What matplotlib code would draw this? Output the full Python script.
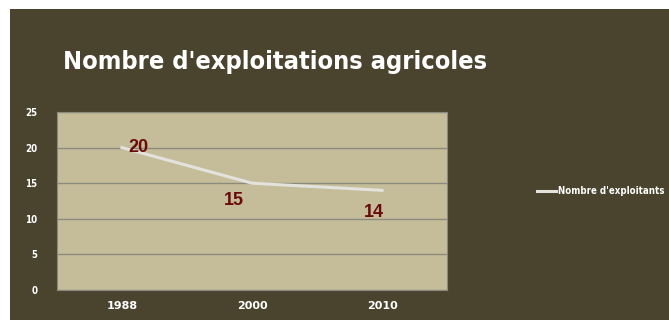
import matplotlib.pyplot as plt
from matplotlib.patches import Rectangle

# donnees
annees = ["1988", "2000", "2010"]
exploitants = [20, 15, 14]
y_ticks = [0, 5, 10, 15, 20, 25]

W, H = 669, 320
fig = plt.figure(figsize=(W / 100, H / 100), dpi=100, facecolor="white")

# fond sombre (petite marge blanche en haut et a gauche)
fig.patches.append(Rectangle((10 / W, 0), 1, 1 - 9 / H, transform=fig.transFigure,
                             facecolor="#4a432e", edgecolor="none", zorder=-1))

ax = fig.add_axes([57 / W, 1 - 290 / H, 390 / W, 178 / H])
ax.set_facecolor("#c5bd9a")
x = range(len(annees))
ax.plot(x, exploitants, color="#e4e2dc", lw=2.2, label="Nombre d'exploitants", zorder=3)
ax.set_xlim(-0.5, len(annees) - 0.5)
ax.set_ylim(0, 25)
ax.set_yticks(y_ticks)
ax.set_xticks(list(x))
ax.set_xticklabels(annees)
ax.grid(axis="y", color="#8c8a7c", lw=1)
ax.set_axisbelow(True)
for s in ax.spines.values():
    s.set_color("#8c8a7c")
ax.tick_params(length=0, colors="white", labelsize=7)
for t in ax.get_yticklabels():
    t.set_fontweight("bold")
    t.set_fontstretch("condensed")
for t in ax.get_xticklabels():
    t.set_fontweight("bold")
    t.set_fontsize(8)
ax.tick_params(axis="x", pad=8)
ax.tick_params(axis="y", pad=14)

# etiquettes des valeurs
decal = [(11.5, 0), (-13, -12.5), (-6, -16)]
for i, v in enumerate(exploitants):
    ax.annotate(str(v), (i, v), xytext=decal[i], textcoords="offset points",
                ha="center", va="center", fontsize=13, fontweight="bold",
                color="#6b0a0a", family="Liberation Sans")

fig.text(63 / W, 1 - 62 / H, "Nombre d'exploitations agricoles", color="white",
         fontsize=18.2, fontweight="bold", va="center", ha="left",
         family="DejaVu Sans", fontstretch="condensed")

leg = ax.legend(loc="center left", bbox_to_anchor=(537 / W, 1 - 191 / H),
                bbox_transform=fig.transFigure, frameon=False,
                prop={"size": 6.9, "weight": "bold", "family": "DejaVu Sans",
                      "stretch": "condensed"},
                handlelength=2.0, handletextpad=0.2, borderaxespad=0,
                borderpad=0)
for t in leg.get_texts():
    t.set_color("white")

fig.savefig("out.png", dpi=100, facecolor=fig.get_facecolor())
